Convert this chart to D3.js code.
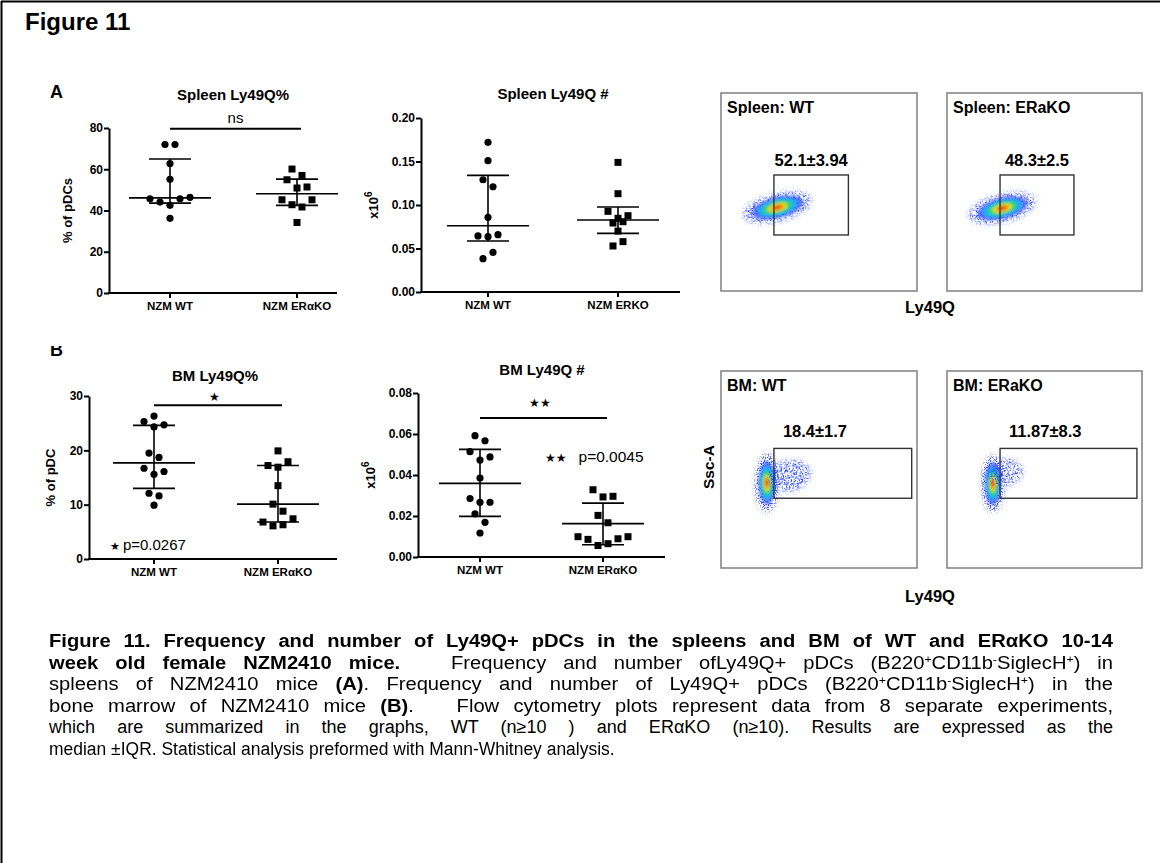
<!DOCTYPE html>
<html>
<head>
<meta charset="utf-8">
<script src="https://cdn.jsdelivr.net/npm/d3@7"></script>
<style>
  body { margin: 0; background: #fff; }
  #fig { position: relative; width: 1160px; height: 863px; overflow: hidden; }
  svg text { font-family: "Liberation Sans", Arial, Helvetica, sans-serif; }
  #caption { position: absolute; left: 49px; top: 631px;
    font-family: "Liberation Sans", Arial, sans-serif; font-size: 18px; line-height: 21.6px; color: #000; }
  #caption .ln { white-space: nowrap; transform-origin: 0 0; height: 21.6px; }
  #caption .ln.just { text-align: justify; text-align-last: justify; }
  #caption sup { font-size: 11px; vertical-align: 6px; line-height: 0; }
</style>
</head>
<body>
<div id="fig"></div>
<script>
// groups on each scatter plot
var catsA = ["NZM WT", "NZM ER\u03b1KO"];
var catsB = ["NZM WT", "NZM ERKO"];

// Spleen Ly49Q% (% of pDCs)
var spleenPctWT = [72, 72, 62.8, 55.1, 45.7, 44.1, 42.5, 45.7, 46.4, 36.2];
var spleenPctKO = [60.1, 57.0, 54.9, 50.9, 51.4, 45.2, 42.8, 41.7, 45.2, 34.2];
// Spleen Ly49Q # (x10^6)
var spleenNumWT = [0.172, 0.151, 0.129, 0.121, 0.0858, 0.0644, 0.0636, 0.0659, 0.0383, 0.0456];
var spleenNumKO = [0.149, 0.113, 0.0927, 0.0847, 0.0877, 0.0793, 0.0808, 0.0700, 0.0529, 0.0579];
// BM Ly49Q% (% of pDC)
var bmPctWT = [25.3, 26.3, 24.7, 24.3, 19.5, 18.7, 16.7, 15.6, 16.1, 12.1, 11.6, 9.9];
var bmPctKO = [19.9, 17.2, 16.9, 17.9, 13.5, 10.1, 8.8, 6.8, 6.1, 6.3, 7.4];
// BM Ly49Q # (x10^6)
var bmNumWT = [0.0592, 0.0567, 0.0514, 0.0473, 0.0488, 0.0385, 0.0285, 0.0267, 0.0267, 0.0210, 0.0169, 0.0117];
var bmNumKO = [0.0328, 0.0293, 0.0296, 0.0203, 0.0167, 0.0099, 0.0086, 0.0056, 0.0065, 0.0089, 0.0099];

// median and IQR drawn on each plot [WT, KO]
var medians = [[46.1, 48.1], [0.0762, 0.0828], [17.7, 10.1], [0.0359, 0.0163]];
var q1s = [[43.6, 42.5], [0.0586, 0.0674], [13.0, 6.8], [0.0198, 0.0060]];
var q3s = [[65.0, 55.2], [0.134, 0.0977], [24.6, 17.2], [0.0525, 0.0263]];

// y ticks
var ticksPct1 = [0, 20, 40, 60, 80];
var ticksNum1 = [0, 0.05, 0.10, 0.15, 0.20];
var ticksPct2 = [0, 10, 20, 30];
var ticksNum2 = [0, 0.02, 0.04, 0.06, 0.08];

// significance bars
var sigBarValues = [79.6, null, 28.3, 0.0678];
var sigLabels = ["ns", null, "\u2605", "\u2605\u2605"];
var pTexts = [null, null, "p=0.0267", "p=0.0045"];
var pStars = [null, null, "\u2605", "\u2605\u2605"];

var plotTitles = ["Spleen Ly49Q%", "Spleen Ly49Q #", "BM Ly49Q%", "BM Ly49Q #"];

// flow cytometry panels
var flowTitles = ["Spleen: WT", "Spleen: ERaKO", "BM: WT", "BM: ERaKO"];
var gateLabels = ["52.1\u00b13.94", "48.3\u00b12.5", "18.4\u00b11.7", "11.87\u00b18.3"];
var gateX = [[27, 65], [27.2, 65.1], [27, 97.3], [27.2, 97.4]];
var gateY = [[28.3, 58.6], [28.3, 58.6], [35.4, 60.7], [35.4, 60.7]];
// populations: [centre Ly49Q, centre SSC, spread x, spread y, tilt deg, dense levels]
var populations = [
  [[28.8, 42.2, 18, 7.2, -14, 6]],
  [[28.4, 41.8, 18, 7.2, -14, 6]],
  [[23.4, 43.2, 6, 15, 0, 6], [35, 47, 11, 8, -10, 0]],
  [[23.5, 42.8, 5.8, 14.5, 0, 6], [30, 48.5, 9, 7, -10, 0]]
];

// caption lines
var captionLines = [
  "<b>Figure 11. Frequency and number of Ly49Q+ pDCs in the spleens and BM of WT and ER\u03b1KO 10-14</b>",
  "<b>week old female NZM2410 mice.</b>&nbsp;&nbsp; Frequency and number ofLy49Q+ pDCs (B220<sup>+</sup>CD11b<sup>-</sup>SiglecH<sup>+</sup>) in",
  "spleens of NZM2410 mice <b>(A)</b>. Frequency and number of Ly49Q+ pDCs (B220<sup>+</sup>CD11b<sup>-</sup>SiglecH<sup>+</sup>) in the",
  "bone marrow of NZM2410 mice <b>(B)</b>.&nbsp;&nbsp; Flow cytometry plots represent data from 8 separate experiments,",
  "which are summarized in the graphs, WT (n\u226510 ) and ER\u03b1KO (n\u226510). Results are expressed as the",
  "median \u00b1IQR. Statistical analysis preformed with Mann-Whitney analysis."
];
// horizontal glyph scale of each caption line
var captionScale = [1.12, 1.12, 1.12, 1.12, 1.0, 0.97];

var W = 1160, H = 863;
var fig = d3.select("#fig");
var svg = fig.append("svg").attr("width", W).attr("height", H);

// frame
svg.append("line").attr("x1", 1).attr("x2", W).attr("y1", 1.5).attr("y2", 1.5)
  .attr("stroke", "#000").attr("stroke-width", 2);
svg.append("line").attr("x1", 1.5).attr("x2", 1.5).attr("y1", 1).attr("y2", H)
  .attr("stroke", "#000").attr("stroke-width", 2);

svg.append("text").attr("x", 25).attr("y", 30).attr("font-size", 24).attr("font-weight", "bold")
  .text("Figure 11");
svg.append("text").attr("x", 50).attr("y", 98).attr("font-size", 18).attr("font-weight", "bold").text("A");
svg.append("clipPath").attr("id", "clipB").append("rect").attr("x", 40).attr("y", 346).attr("width", 40).attr("height", 30);
svg.append("text").attr("x", 50).attr("y", 356).attr("font-size", 18).attr("font-weight", "bold")
  .attr("clip-path", "url(#clipB)").text("B");

var plots = [
  { wt: spleenPctWT, ko: spleenPctKO, cats: catsA, ticks: ticksPct1, fmt: d3.format("d"),
    ax: 109, axEnd: 337, yTop: 128, yBot: 293, cx: [170, 297], ylab: "% of pDCs", ylx: 72,
    titleX: 233, titleY: 100, sigGap: 6 },
  { wt: spleenNumWT, ko: spleenNumKO, cats: catsB, ticks: ticksNum1, fmt: d3.format(".2f"),
    ax: 421, axEnd: 680, yTop: 118, yBot: 292, cx: [488, 618], ylab: "x10", ylx: 378,
    titleX: 553, titleY: 99, sigGap: 0 },
  { wt: bmPctWT, ko: bmPctKO, cats: catsA, ticks: ticksPct2, fmt: d3.format("d"),
    ax: 89, axEnd: 337, yTop: 396, yBot: 559, cx: [154, 278], ylab: "% of pDC", ylx: 55,
    titleX: 215, titleY: 381, sigGap: 4 },
  { wt: bmNumWT, ko: bmNumKO, cats: catsA, ticks: ticksNum2, fmt: d3.format(".2f"),
    ax: 418, axEnd: 665, yTop: 393, yBot: 557, cx: [480, 603], ylab: "x10", ylx: 375,
    titleX: 542, titleY: 375, sigGap: 11 }
];

// spread points of similar value side by side (column scatter)
function spread(values, y, gap, minDy) {
  var idx = values.map(function(v, i) { return i; });
  idx.sort(function(a, b) { return values[b] - values[a] || a - b; });
  var groups = [], cur = null;
  idx.forEach(function(i) {
    if (cur && y(values[i]) - y(values[cur[0]]) < minDy) cur.push(i);
    else { cur = [i]; groups.push(cur); }
  });
  var off = new Array(values.length);
  groups.forEach(function(g) {
    g.sort(function(a, b) { return a - b; });
    g.forEach(function(i, k) { off[i] = (k - (g.length - 1) / 2) * gap; });
  });
  return off;
}

plots.forEach(function(p, pi) {
  var g = svg.append("g");
  var y = d3.scaleLinear().domain([0, p.ticks[p.ticks.length - 1]]).range([p.yBot, p.yTop]);
  var x = d3.scaleOrdinal().domain(p.cats).range(p.cx);

  // y axis
  var yAxis = g.append("g").attr("transform", "translate(" + p.ax + ",0)")
    .call(d3.axisLeft(y).tickValues(p.ticks).tickFormat(p.fmt).tickSize(5).tickSizeOuter(0));
  yAxis.select(".domain").attr("stroke-width", 2);
  yAxis.selectAll(".tick line").attr("stroke-width", 2);
  yAxis.selectAll(".tick text").attr("font-size", 12).attr("font-weight", "bold")
    .attr("font-family", "Liberation Sans, Arial, sans-serif").attr("x", -6);

  // x axis
  g.append("line").attr("x1", p.ax - 1).attr("x2", p.axEnd).attr("y1", p.yBot).attr("y2", p.yBot)
    .attr("stroke", "#000").attr("stroke-width", 2);
  g.selectAll(".xtick").data(p.cats).enter().append("line")
    .attr("x1", function(d) { return x(d); }).attr("x2", function(d) { return x(d); })
    .attr("y1", p.yBot).attr("y2", p.yBot + 5).attr("stroke", "#000").attr("stroke-width", 2);
  g.selectAll(".xlab").data(p.cats).enter().append("text")
    .attr("x", function(d) { return x(d); }).attr("y", p.yBot + 17)
    .attr("text-anchor", "middle").attr("font-size", 11.5).attr("font-weight", "bold")
    .text(function(d) { return d; });

  // title
  g.append("text").attr("x", p.titleX).attr("y", p.titleY).attr("text-anchor", "middle")
    .attr("font-size", 15).attr("font-weight", "bold").text(plotTitles[pi]);

  // y label
  var ylc = (p.yTop + p.yBot) / 2;
  var yl = g.append("text").attr("transform", "translate(" + p.ylx + "," + ylc + ") rotate(-90)")
    .attr("text-anchor", "middle").attr("font-size", 13).attr("font-weight", "bold").text(p.ylab);
  if (p.ylab === "x10") yl.append("tspan").attr("dy", -6).attr("font-size", 10).text("6");

  // points
  [p.wt, p.ko].forEach(function(vals, gi) {
    var off = spread(vals, y, 10, 9);
    var cxv = x(p.cats[gi]);
    if (gi === 0) {
      g.selectAll(".pt" + gi).data(vals).enter().append("circle")
        .attr("cx", function(d, i) { return cxv + off[i]; })
        .attr("cy", function(d) { return y(d); }).attr("r", 3.6).attr("fill", "#000");
    } else {
      g.selectAll(".pt" + gi).data(vals).enter().append("rect")
        .attr("x", function(d, i) { return cxv + off[i] - 3.5; })
        .attr("y", function(d) { return y(d) - 3.5; }).attr("width", 7).attr("height", 7).attr("fill", "#000");
    }
    // median and IQR
    var m = medians[pi][gi], lo = q1s[pi][gi], hi = q3s[pi][gi];
    var eb = g.append("g").attr("stroke", "#000").attr("stroke-width", 1.6);
    eb.append("line").attr("x1", cxv - 41).attr("x2", cxv + 41).attr("y1", y(m)).attr("y2", y(m));
    eb.append("line").attr("x1", cxv - 21).attr("x2", cxv + 21).attr("y1", y(lo)).attr("y2", y(lo));
    eb.append("line").attr("x1", cxv - 21).attr("x2", cxv + 21).attr("y1", y(hi)).attr("y2", y(hi));
    eb.append("line").attr("x1", cxv).attr("x2", cxv).attr("y1", y(lo)).attr("y2", y(hi));
  });

  // significance
  if (sigBarValues[pi] !== null) {
    var by = y(sigBarValues[pi]);
    var x0 = x(p.cats[0]), x1 = x(p.cats[1]) + 4;
    g.append("line").attr("x1", x0).attr("x2", x1).attr("y1", by).attr("y2", by)
      .attr("stroke", "#000").attr("stroke-width", 2);
    var isNs = sigLabels[pi] === "ns";
    g.append("text").attr("x", (x0 + x1) / 2 - (isNs ? 0 : 4)).attr("y", by - p.sigGap)
      .attr("text-anchor", "middle").attr("font-size", isNs ? 15 : 12)
      .attr("font-family", isNs ? null : "DejaVu Sans").text(sigLabels[pi]);
  }
});

// p-value notes
var pn1 = svg.append("text").attr("x", 110).attr("y", 550).attr("font-size", 15);
pn1.append("tspan").attr("font-size", 11).attr("font-family", "DejaVu Sans").text(pStars[2]);
pn1.append("tspan").attr("dx", 3).text(pTexts[2]);
var pn2 = svg.append("text").attr("x", 545).attr("y", 462).attr("font-size", 15.5);
pn2.append("tspan").attr("font-size", 12).attr("font-family", "DejaVu Sans").text(pStars[3]);
pn2.append("tspan").attr("dx", 12).text(pTexts[3]);

// flow cytometry panels
var defs = svg.append("defs");
defs.append("filter").attr("id", "soft").attr("x", "-50%").attr("y", "-50%").attr("width", "200%").attr("height", "200%")
  .append("feGaussianBlur").attr("stdDeviation", 1.4);
var spk = defs.append("filter").attr("id", "speckle").attr("x", "-20%").attr("y", "-20%").attr("width", "140%").attr("height", "140%");
spk.append("feGaussianBlur").attr("in", "SourceGraphic").attr("stdDeviation", 2.5).attr("result", "b");
spk.append("feTurbulence").attr("type", "fractalNoise").attr("baseFrequency", 0.85).attr("numOctaves", 1)
  .attr("seed", 4).attr("result", "n");
spk.append("feColorMatrix").attr("in", "n").attr("type", "matrix")
  .attr("values", "0 0 0 0 0  0 0 0 0 0  0 0 0 0 0  14 0 0 0 -7.3").attr("result", "m");
spk.append("feComposite").attr("in", "b").attr("in2", "m").attr("operator", "in");

var levels = [0.74, 0.56, 0.42, 0.3, 0.2, 0.11];
var levelColors = ["#3a55ff", "#10b8f0", "#34d06a", "#cfe426", "#ff9a00", "#f01a00"];

var panelX = [[721, 917], [947, 1142], [721, 917], [947, 1142]];
var panelY = [[93, 291], [93, 291], [371, 568], [371, 568]];

flowTitles.forEach(function(t, fi) {
  var g = svg.append("g");
  var fx = d3.scaleLinear().domain([0, 100]).range(panelX[fi]);
  var fy = d3.scaleLinear().domain([0, 100]).range([panelY[fi][1], panelY[fi][0]]);
  g.append("rect").attr("x", fx(0)).attr("y", fy(100)).attr("width", fx(100) - fx(0)).attr("height", fy(0) - fy(100))
    .attr("fill", "#fff").attr("stroke", "#808080").attr("stroke-width", 1.5);

  populations[fi].forEach(function(pop) {
    var pcx = fx(pop[0]), pcy = fy(pop[1]);
    var rx = fx(pop[2]) - fx(0), ry = fy(0) - fy(pop[3]);
    var rot = "rotate(" + pop[4] + "," + pcx + "," + pcy + ")";
    // sparse fringe of events
    g.append("ellipse").attr("cx", pcx).attr("cy", pcy).attr("rx", rx).attr("ry", ry)
      .attr("transform", rot).attr("fill", "#1e3cff").attr("filter", "url(#speckle)");
    var dens = g.append("g").attr("filter", "url(#soft)");
    dens.selectAll(null).data(levels.slice(0, pop[5])).enter().append("ellipse")
      .attr("cx", pcx).attr("cy", pcy)
      .attr("rx", function(s) { return rx * s; }).attr("ry", function(s) { return ry * s; })
      .attr("transform", rot)
      .attr("fill", function(s, i) { return levelColors[i]; })
      .attr("opacity", function(s, i) { return i === 0 ? 0.8 : 1; });
  });

  g.append("rect").attr("x", fx(gateX[fi][0])).attr("y", fy(gateY[fi][1]))
    .attr("width", fx(gateX[fi][1]) - fx(gateX[fi][0])).attr("height", fy(gateY[fi][0]) - fy(gateY[fi][1]))
    .attr("fill", "none").attr("stroke", "#333").attr("stroke-width", 1.4);
  var spleen = fi < 2;
  g.append("text").attr("x", spleen ? (fx(gateX[fi][0]) + fx(gateX[fi][1])) / 2 : fx(gateX[fi][0]) + 9)
    .attr("y", fy(gateY[fi][1]) - (spleen ? 9 : 11)).attr("text-anchor", spleen ? "middle" : "start")
    .attr("font-size", 16.5).attr("font-weight", "bold").text(gateLabels[fi]);
  g.append("text").attr("x", fx(0) + 6).attr("y", fy(100) + 20).attr("font-size", 16).attr("font-weight", "bold").text(t);
});

svg.append("text").attr("x", 930).attr("y", 313).attr("text-anchor", "middle").attr("font-size", 16.5)
  .attr("font-weight", "bold").text("Ly49Q");
svg.append("text").attr("x", 930).attr("y", 602).attr("text-anchor", "middle").attr("font-size", 16.5)
  .attr("font-weight", "bold").text("Ly49Q");
svg.append("text").attr("transform", "translate(714,467) rotate(-90)").attr("text-anchor", "middle")
  .attr("font-size", 15.5).attr("font-weight", "bold").text("Ssc-A");

// caption: justified lines, glyphs scaled horizontally like the scanned page
var blockWidth = 1064;
var cap = fig.append("div").attr("id", "caption");
cap.selectAll(".ln").data(captionLines).enter().append("div")
  .attr("class", function(d, i) { return i < captionLines.length - 1 ? "ln just" : "ln"; })
  .style("width", function(d, i) { return (blockWidth / captionScale[i]) + "px"; })
  .style("transform", function(d, i) { return "scaleX(" + captionScale[i] + ")"; })
  .html(function(d) { return d; });
</script>
</body>
</html>
